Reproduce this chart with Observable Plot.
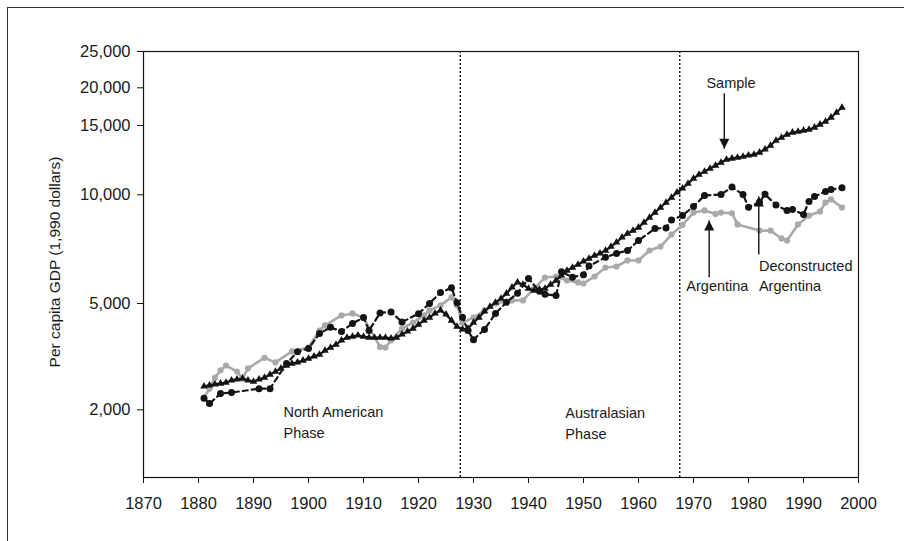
<!DOCTYPE html>
<html>
<head>
<meta charset="utf-8">
<script src="https://cdn.jsdelivr.net/npm/d3@7"></script>
<script src="https://cdn.jsdelivr.net/npm/@observablehq/plot@0.6"></script>
<style>
  body { margin: 0; background: #fff; }
  #wrap { position: relative; width: 904px; height: 541px; overflow: hidden; }
  #border { position: absolute; left: 7px; top: 7px; right: -10px; bottom: -10px;
            border-left: 1.3px solid #333; border-top: 1.3px solid #333; pointer-events: none; }
  #wrap svg { position: absolute; left: 0; top: 0; }
</style>
</head>
<body>
<div id="wrap"><div id="border"></div></div>
<script>
// ---------- data ----------
const xTicks = [1870, 1880, 1890, 1900, 1910, 1920, 1930, 1940, 1950, 1960, 1970, 1980, 1990, 2000];
const yTicks = [2000, 5000, 10000, 15000, 20000, 25000];

// Sample (annual, 1881-1997)
const sampleStart = 1881;
const sampleValues = [
  2450, 2470, 2490, 2510, 2530, 2580, 2600, 2620, 2580,             // 1881-1889
  2550, 2600, 2640, 2710, 2780, 2860, 2930, 2980, 3010, 3060,       // 1890-1899
  3110, 3170, 3220, 3330, 3420, 3510, 3640, 3730, 3760, 3800,       // 1900-1909
  3760, 3730, 3730, 3730, 3730, 3700, 3730, 3830, 3930, 4030,       // 1910-1919
  4170, 4320, 4430, 4590, 4710, 4550, 4320, 4100, 4000, 4030,       // 1920-1929
  4240, 4430, 4670, 4870, 5030, 5160, 5330, 5540, 5720, 5640,       // 1930-1939
  5500, 5430, 5470, 5500, 5640, 5790, 5980, 6170, 6290, 6410,       // 1940-1949
  6540, 6660, 6790, 6880, 7010, 7190, 7380, 7620, 7810, 7960,       // 1950-1959
  8120, 8380, 8650, 8930, 9220, 9520, 9830, 10140, 10380, 10680,    // 1960-1969
  11000, 11260, 11460, 11660, 11870, 12080, 12290, 12370, 12440, 12510, // 1970-1979
  12590, 12660, 12810, 13040, 13340, 13740, 13980, 14230, 14400, 14480, // 1980-1989
  14570, 14650, 14830, 15120, 15460, 15950, 16560, 17210            // 1990-1997
];

// Argentina
const argYears = [1881, 1882, 1883, 1884, 1885, 1887, 1888, 1889, 1892, 1894, 1897, 1900, 1902, 1903,
  1906, 1908, 1910, 1913, 1914, 1915, 1917, 1919, 1921, 1922, 1924, 1926, 1927, 1928, 1930, 1932, 1934,
  1937, 1939, 1941, 1943, 1945, 1947, 1949, 1950, 1952, 1954, 1956, 1958, 1960, 1962, 1964, 1966, 1968,
  1970, 1972, 1974, 1975, 1977, 1978, 1982, 1984, 1986, 1987, 1989, 1991, 1993, 1994, 1995, 1997];
const argValues = [2220, 2400, 2640, 2810, 2930, 2780, 2620, 2860, 3130, 3010, 3310, 3420, 3960, 4140,
  4510, 4590, 4430, 3440, 3420, 3640, 4030, 4240, 4510, 4710, 4920, 5200, 4920, 4240, 4430, 4710, 5000,
  5100, 5100, 5500, 5900, 5940, 5790, 5720, 5680, 5940, 6290, 6330, 6580, 6580, 7010, 7190, 7760, 8250,
  8930, 9050, 8850, 8930, 8890, 8280, 7960, 7960, 7570, 7470, 8280, 8760, 8990, 9520, 9710, 9220];

// Deconstructed Argentina
const decYears = [1881, 1882, 1884, 1886, 1891, 1893, 1896, 1898, 1900, 1902, 1904, 1906, 1908, 1910,
  1911, 1913, 1915, 1917, 1920, 1922, 1924, 1926, 1927, 1928, 1929, 1930, 1932, 1934, 1936, 1938, 1940,
  1942, 1943, 1945, 1946, 1948, 1950, 1951, 1954, 1956, 1958, 1960, 1963, 1965, 1966, 1968, 1970, 1972,
  1975, 1977, 1979, 1980, 1982, 1983, 1985, 1987, 1988, 1990, 1991, 1992, 1994, 1995, 1997];
const decValues = [2210, 2110, 2300, 2320, 2400, 2400, 2980, 3300, 3390, 3860, 4070, 3930, 4210, 4430,
  3960, 4610, 4650, 4260, 4580, 5000, 5360, 5530, 5020, 4440, 3960, 3660, 4000, 4590, 5040, 5340, 5860,
  5410, 5300, 5260, 6120, 5910, 6010, 6350, 6710, 6880, 7010, 7470, 8070, 8090, 8520, 8760, 9280, 9960,
  10020, 10460, 10020, 9240, 9540, 10030, 9370, 9050, 9110, 8820, 9580, 9890, 10200, 10310, 10420];

const phaseBreaks = [1927.6, 1967.5];

// annotation text lines (anchored at their baseline)
const noteLabels = ["North American", "Phase", "Australasian", "Phase", "Sample", "Argentina", "Deconstructed", "Argentina"];
const noteYears  = [1895.45, 1895.45, 1946.7, 1946.7, 1976.82, 1968.7, 1981.9, 1981.9];
const noteValues = [1877, 1571, 1860, 1557, 19940, 5400, 6171, 5400];
const noteAnchor = ["start", "start", "start", "start", "middle", "start", "start", "start"];

// arrows: from (tail) to (tip)
const arrowLabels = ["Sample", "Argentina", "Deconstructed Argentina"];
const arrowYears  = [1975.6, 1972.85, 1981.87];
const arrowFrom   = [19190, 5913, 6834];
const arrowTo     = [13090, 8488, 9892];

// ---------- tables ----------
const sample = sampleValues.map((v, i) => ({year: sampleStart + i, value: v}));
const arg = argYears.map((y, i) => ({year: y, value: argValues[i]}));
const dec = decYears.map((y, i) => ({year: y, value: decValues[i]}));
const notes = noteLabels.map((t, i) => ({text: t, year: noteYears[i], value: noteValues[i], anchor: noteAnchor[i]}));
const arrows = arrowLabels.map((t, i) => ({name: t, year: arrowYears[i], from: arrowFrom[i], to: arrowTo[i]}));
const downArrows = arrows.filter(d => d.to < d.from);
const upArrows = arrows.filter(d => d.to > d.from);

const headDown = {draw(ctx) { ctx.moveTo(0, 0); ctx.lineTo(-5, -10); ctx.lineTo(5, -10); ctx.closePath(); }};
const headUp = {draw(ctx) { ctx.moveTo(0, 0); ctx.lineTo(-5, 10); ctx.lineTo(5, 10); ctx.closePath(); }};

const ink = "#141414";
const grey = "#a9a9a9";
const font = "'Liberation Sans', Arial, Helvetica, sans-serif";

const chart = Plot.plot({
  width: 904,
  height: 541,
  marginLeft: 143,
  marginRight: 46,
  marginTop: 51,
  marginBottom: 64,
  style: {fontFamily: font, fontSize: "16.5px", color: "#1a1a1a", background: "transparent", overflow: "visible"},
  x: {domain: [1870, 2000]},
  y: {type: "log", domain: [1116, 2000, 5000, 10000, 15000, 20000, 25000],
      range: [477, 409.3, 303, 194.3, 125, 87.3, 51]},
  marks: [
    Plot.axisX({ticks: xTicks, tickSize: 6, tickPadding: 14, tickFormat: d => String(d), label: null, fontSize: 16.5, stroke: ink}),
    Plot.axisY({ticks: yTicks, tickSize: 6, tickPadding: 7, tickFormat: d3.format(","), label: null, fontSize: 16.5, stroke: ink}),
    Plot.text(["Per capita GDP (1,990 dollars)"], {text: d => d, frameAnchor: "left", textAnchor: "middle", dx: -88, dy: -2.5, rotate: -90, fontSize: 15.5, fill: "#1a1a1a"}),
    Plot.ruleX(phaseBreaks, {stroke: ink, strokeWidth: 1.4, strokeDasharray: "2,2"}),
    // Argentina
    Plot.line(arg, {x: "year", y: "value", stroke: grey, strokeWidth: 2.6}),
    Plot.dot(arg, {x: "year", y: "value", fill: grey, r: 3.1}),
    // Deconstructed Argentina
    Plot.line(dec, {x: "year", y: "value", stroke: ink, strokeWidth: 2.2, strokeDasharray: "5,4"}),
    Plot.dot(dec, {x: "year", y: "value", fill: ink, r: 3.5}),
    // Sample
    Plot.line(sample, {x: "year", y: "value", stroke: ink, strokeWidth: 2.2}),
    Plot.dot(sample, {x: "year", y: "value", fill: ink, symbol: "triangle", r: 2.8}),
    // annotations
    Plot.link(arrows, {x1: "year", x2: "year", y1: "from", y2: "to", stroke: ink, strokeWidth: 1.4}),
    Plot.dot(downArrows, {x: "year", y: "to", symbol: headDown, fill: ink, r: 3}),
    Plot.dot(upArrows, {x: "year", y: "to", symbol: headUp, fill: ink, r: 3}),
    Plot.text(notes.filter(d => d.anchor === "start"), {x: "year", y: "value", text: "text", textAnchor: "start", lineAnchor: "bottom", fontSize: 14.5, fill: "#1a1a1a"}),
    Plot.text(notes.filter(d => d.anchor === "middle"), {x: "year", y: "value", text: "text", textAnchor: "middle", lineAnchor: "bottom", fontSize: 14.5, fill: "#1a1a1a"}),
    Plot.frame({stroke: ink, strokeWidth: 1.2})
  ]
});

document.getElementById("wrap").appendChild(chart);
</script>
</body>
</html>
